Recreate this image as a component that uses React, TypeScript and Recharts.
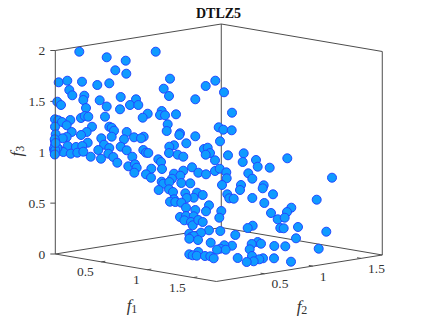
import { ScatterChart, Scatter, XAxis, YAxis, ReferenceLine } from 'recharts';

const WIDTH = 423;
const HEIGHT = 317;

const projectedPoints = [
  [79.3, 51.7], [106.7, 57.3], [125.7, 60.7], [115.3, 70.3], [126.3, 73.7], [58.7, 82.3], [67.3, 80.7], [82, 81.7],
  [97.3, 85], [109.3, 83.3], [69.3, 90], [72.3, 95.3], [84.3, 95.7], [83.3, 100], [99.7, 100.3], [120.7, 97],
  [136, 99.3], [57.3, 101.7], [61, 105], [106.7, 106.5], [130, 105], [86, 108], [138.3, 105], [120, 109.3],
  [155.7, 51.7], [170, 78.7], [163.7, 88.7], [169, 96], [205.7, 86], [215.3, 80.7], [224, 92.3], [195.3, 99.3],
  [105, 116.7], [81, 118], [84.7, 116], [88.3, 116.7], [70.3, 120], [55, 119.3], [58.3, 120.3], [62, 122],
  [66.7, 125.3], [55, 126.7], [92, 126.7], [109.3, 126.7], [111.7, 127.7], [114, 130.7], [71.7, 132], [55.7, 134.3],
  [86.7, 132], [81, 135], [126.7, 132], [111.7, 136.7], [66.7, 137], [62.7, 138.3], [55, 141], [101.3, 138.3],
  [124, 139.3], [134, 137.3], [87.7, 142.7], [55, 145.3], [67.7, 146], [76, 147], [82.3, 146], [104, 144.7],
  [109.3, 148], [120.7, 146.7], [58.3, 148.7], [54, 148.7], [98.3, 150], [126.7, 150.3], [55, 153.7], [63.3, 152],
  [70.7, 153.7], [77.3, 152.7], [83.3, 151.7], [108.3, 153.7], [90.7, 156.7], [101, 158.7], [113.3, 157], [132.3, 156.7],
  [117.3, 162.7], [128.3, 166.3], [135, 164.3], [136.7, 167.7], [134.3, 172.7], [57.3, 148], [54.5, 151], [55.5, 152.5],
  [54.7, 139.3], [55.3, 150], [54.8, 154.5], [55.6, 143], [147.7, 113.7], [142.7, 117.7], [161.7, 111], [160, 115],
  [165, 115.3], [176, 114.3], [167.7, 124.3], [166.7, 131], [180, 133.3], [179.3, 135], [195.3, 136.3], [143.7, 136.7],
  [141, 138.3], [186.3, 143.3], [174, 145.3], [169.3, 146.7], [169, 153], [177.7, 154.7], [183.3, 156.7], [143.3, 150],
  [146, 152.7], [148.3, 153], [158.3, 159.3], [161, 162], [151.3, 168.7], [162, 169], [146, 174.3], [151, 177.7],
  [204, 149], [207.7, 147.7], [210, 153], [205.7, 154.7], [215, 160.3], [218.7, 127.3], [223.3, 129.7], [231.7, 130.3],
  [220, 141.3], [232, 112.7], [228, 155.3], [243.7, 153.3], [242.7, 162], [256, 160], [257.7, 166.7], [269.7, 167.7],
  [192, 167.3], [198.3, 172.7], [206, 174.3], [215, 171], [219.7, 168.7], [226.3, 172.3], [226.7, 178.3], [183.3, 170.7],
  [174, 173.7], [180.3, 175.7], [172, 178.7], [161.7, 181.7], [163.3, 183.7], [169.3, 182], [181.3, 183], [190.3, 183.3],
  [158.7, 190], [169, 189.3], [173, 192], [222, 185], [248.3, 173.3], [252.3, 178.7], [241, 185], [240, 190],
  [263.7, 185.3], [262.7, 188.3], [227.3, 194.3], [229.3, 198.3], [233.7, 198.7], [252.3, 198], [273, 194.3], [264.3, 203],
  [185.3, 193.3], [197, 192.7], [202.7, 195], [193.7, 197.7], [186.7, 198], [174, 199.3], [170, 201.7], [175.3, 202],
  [181.3, 202.7], [186, 207.7], [209, 205.3], [195.3, 210], [206, 211.3], [221.3, 211], [271, 213], [287.3, 158.3],
  [332, 177.7], [316.7, 199.7], [291.3, 207.7], [287, 212], [180, 217], [186, 216], [193.7, 216.3], [184.3, 220.3],
  [191, 222], [192.7, 225.3], [198.3, 220], [202.7, 222], [219.3, 217.7], [277.7, 219.3], [252.7, 225.7], [247.7, 228],
  [280.3, 228], [220.3, 231], [209, 230.3], [201, 232.7], [235.3, 235], [189.3, 233.7], [191, 237], [193.7, 236],
  [198, 240], [189.3, 238.7], [210.7, 242.7], [257.7, 242], [261, 243.7], [251.7, 244], [232, 245.7], [224.3, 245.3],
  [274.3, 246], [220.3, 248.7], [225.7, 249.7], [217, 249.7], [249.7, 249.3], [198.3, 252], [189.3, 254.3], [192.7, 255.3],
  [196.7, 255.7], [205, 256], [210.3, 256.3], [213.7, 258.3], [237.7, 258], [252, 256], [263, 258.3], [259.3, 259.3],
  [274, 258.3], [253.7, 261.3], [246.7, 262], [284.7, 217.7], [298, 227], [326.3, 231.7], [283.7, 228.3], [296, 238.3],
  [318.7, 248.7], [285.3, 246.3], [291, 261.7],
];

const f1Ticks = [0.5, 1, 1.5];
const f2Ticks = [0.5, 1, 1.5];
const f3Ticks = [0, 0.5, 1, 1.5, 2];
const F1_MAX = 1.75;
const F2_MAX = 1.72;
const F3_MAX = 2;

// view projection of the axes box, fitted to the reference
const project = (f1: number, f2: number, f3: number) => ({
  x: 55.3 + f1 * 92 + f2 * 96.5,
  y: 254 + f1 * 15.7 - f2 * 15.4 - f3 * 101.75,
});

const seg = (a: { x: number; y: number }, b: { x: number; y: number }) => [a, b];

const corner = (i: number, j: number, k: number) => project(i * F1_MAX, j * F2_MAX, k * F3_MAX);

const boxEdges = [
  seg(corner(0, 1, 0), corner(0, 1, 1)),
  seg(corner(1, 1, 0), corner(1, 1, 1)),
  seg(corner(0, 0, 1), corner(0, 1, 1)),
  seg(corner(0, 1, 1), corner(1, 1, 1)),
  seg(corner(0, 0, 0), corner(0, 1, 0)),
  seg(corner(0, 1, 0), corner(1, 1, 0)),
  seg(corner(0, 0, 0), corner(1, 0, 0)),
  seg(corner(1, 0, 0), corner(1, 1, 0)),
];

// the f3 axis line sits in front of the markers
const f3AxisLine = seg(corner(0, 0, 0), corner(0, 0, 1));

const tickMarks = [
  ...f1Ticks.map((v) => {
    const p = project(v, 0, 0);
    return seg(p, { x: p.x + 4, y: p.y - 0.6 });
  }),
  ...f2Ticks.map((v) => {
    const p = project(F1_MAX, v, 0);
    return seg(p, { x: p.x - 4, y: p.y - 0.6 });
  }),
  ...f3Ticks.map((v) => {
    const p = project(0, 0, v);
    return seg(p, { x: p.x - 5, y: p.y });
  }),
];

const tickLabels = [
  ...f1Ticks.map((v) => {
    const p = project(v, 0, 0);
    return { x: p.x - 7.5, y: p.y + 10, label: String(v), anchor: 'end' };
  }),
  ...f2Ticks.map((v) => {
    const p = project(F1_MAX, v, 0);
    return { x: p.x + 7, y: p.y + 10, label: String(v), anchor: 'start' };
  }),
  ...f3Ticks.map((v) => {
    const p = project(0, 0, v);
    return { x: p.x - 10, y: p.y, label: String(v), anchor: 'end' };
  }),
];

const pointData = projectedPoints.map(([x, y]) => ({ x, y }));

const FONT = '"Liberation Serif", serif';
const INK = '#333333';

const Dot = (props: any) => (
  <circle cx={props.cx} cy={props.cy} r={4.5} fill="#0f9bff" stroke="#2348ff" strokeWidth={1} />
);

const NoDot = () => null;

const TickText = (props: any) => (
  <text
    x={props.cx}
    y={props.cy}
    textAnchor={props.payload.anchor}
    dominantBaseline="central"
    fontFamily={FONT}
    fontSize={13.5}
    fill={INK}
  >
    {props.payload.label}
  </text>
);

const AxisName = (props: any) => {
  const { cx, cy, payload } = props;
  return (
    <text
      x={cx}
      y={cy}
      textAnchor="middle"
      dominantBaseline="central"
      fontFamily={FONT}
      fontSize={17}
      fill={INK}
      transform={payload.rotate ? `rotate(-90 ${cx} ${cy})` : undefined}
    >
      <tspan fontStyle="italic">f</tspan>
      <tspan fontSize={12} dy={4}>
        {payload.sub}
      </tspan>
    </text>
  );
};

const TitleText = (props: any) => (
  <text
    x={props.cx}
    y={props.cy}
    textAnchor="middle"
    dominantBaseline="central"
    fontFamily={FONT}
    fontSize={14}
    fontWeight="bold"
    fill="#111111"
  >
    {props.payload.label}
  </text>
);

const axisNames = [
  { x: 132, y: 305, sub: '1' },
  { x: 302, y: 306, sub: '2' },
  { x: 16, y: 151, sub: '3', rotate: true },
];
const titleData = [{ x: 218.5, y: 13, label: 'DTLZ5' }];

export default function App() {
  return (
    <div style={{ position: 'absolute', left: 0, top: 0, width: WIDTH, height: HEIGHT }}>
      <ScatterChart width={WIDTH} height={HEIGHT} margin={{ top: 0, right: 0, bottom: 0, left: 0 }}>
        <XAxis type="number" dataKey="x" domain={[0, WIDTH]} hide />
        <YAxis type="number" dataKey="y" domain={[0, HEIGHT]} reversed hide />
        {boxEdges.map((s, i) => (
          <ReferenceLine key={`edge-${i}`} segment={s} stroke="#4d4d4d" strokeWidth={1} />
        ))}
        {tickMarks.map((s, i) => (
          <ReferenceLine key={`tick-${i}`} segment={s} stroke="#4d4d4d" strokeWidth={1} />
        ))}
        <Scatter data={pointData} shape={Dot} isAnimationActive={false} />
        <Scatter
          data={f3AxisLine}
          line={{ stroke: '#4d4d4d', strokeWidth: 1 }}
          shape={NoDot}
          isAnimationActive={false}
        />
        <Scatter data={tickLabels} shape={TickText} isAnimationActive={false} />
        <Scatter data={axisNames} shape={AxisName} isAnimationActive={false} />
        <Scatter data={titleData} shape={TitleText} isAnimationActive={false} />
      </ScatterChart>
    </div>
  );
}
